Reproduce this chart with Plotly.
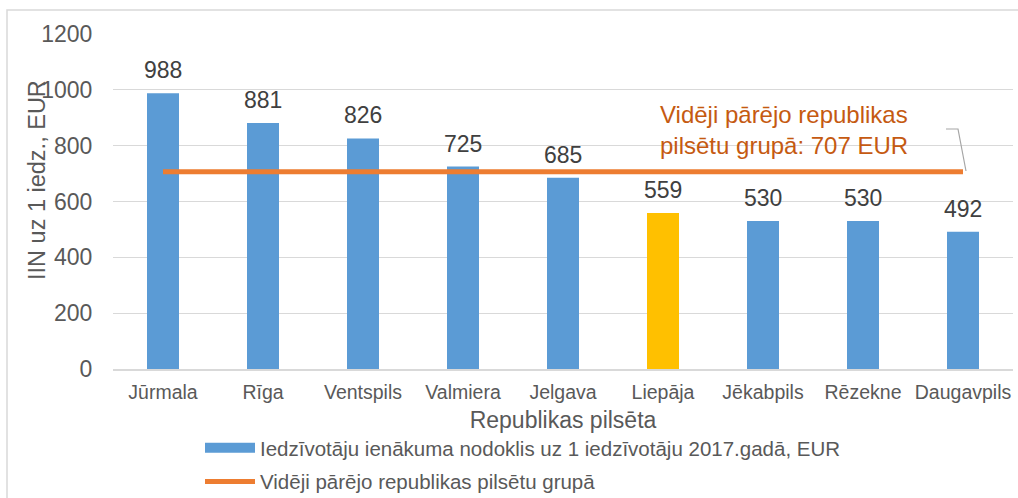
import plotly.graph_objects as go

cities = ["Jūrmala", "Rīga", "Ventspils", "Valmiera", "Jelgava", "Liepāja", "Jēkabpils", "Rēzekne", "Daugavpils"]
iin_values = [988, 881, 826, 725, 685, 559, 530, 530, 492]
group_avg = [707, 707, 707, 707, 707, 707, 707, 707, 707]
highlight_city = "Liepāja"

BLUE = "#5B9BD5"
YELLOW = "#FFC000"
ORANGE = "#ED7D31"
FONT = "Liberation Sans, Arial, sans-serif"
TXT = "#595959"
BAR_NAME = "Iedzīvotāju ienākuma nodoklis uz 1 iedzīvotāju 2017.gadā, EUR"
LINE_NAME = "Vidēji pārējo republikas pilsētu grupā"

bar_colors = [YELLOW if c == highlight_city else BLUE for c in cities]

fig = go.Figure()
fig.add_trace(go.Bar(
    x=cities, y=iin_values, width=0.32,
    marker=dict(color=bar_colors, line=dict(width=0)),
    showlegend=False, name=BAR_NAME,
))
# legend entry for bars drawn as a wide swatch (like the original)
fig.add_trace(go.Scatter(
    x=[None], y=[None], mode="lines",
    line=dict(color=BLUE, width=11), legendgroup="a", name=BAR_NAME,
))
fig.add_trace(go.Scatter(
    x=cities, y=group_avg, mode="lines",
    line=dict(color=ORANGE, width=5), legendgroup="b", name=LINE_NAME,
))

L, R, T, B = 113, 5, 34, 129
W, H = 1018, 498
pw = W - L - R
ph = H - T - B
def px(x): return (x - L) / pw
def py(y): return (H - B - y) / ph

value_labels = [
    dict(x=c, y=v, xref="x", yref="y", text=str(v), showarrow=False,
         xanchor="center", yanchor="bottom", yshift=8,
         font=dict(size=23, color="#404040", family=FONT))
    for c, v in zip(cities, iin_values)
]

fig.update_layout(
    width=W, height=H,
    margin=dict(l=L, r=R, t=T, b=B, autoexpand=False),
    paper_bgcolor="white", plot_bgcolor="white",
    font=dict(family=FONT, color=TXT),
    showlegend=True,
    legend=dict(
        x=px(200), y=py(428), xanchor="left", yanchor="top",
        orientation="v", font=dict(size=20.5, color=TXT, family=FONT),
        bgcolor="rgba(0,0,0,0)", tracegroupgap=4, itemwidth=50,
    ),
    xaxis=dict(
        showgrid=False, showline=True, linecolor="#D9D9D9", linewidth=1.5,
        tickfont=dict(size=19.5, color=TXT), ticks="", ticklabelstandoff=5,
        title=dict(text="Republikas pilsēta", font=dict(size=23, color=TXT), standoff=10),
    ),
    yaxis=dict(
        range=[0, 1200], dtick=200, showgrid=True, gridcolor="#D9D9D9", gridwidth=1.2,
        zeroline=False, showline=False,
        tickfont=dict(size=23, color=TXT), ticks="outside", ticklen=15, tickcolor="rgba(0,0,0,0)",
    ),
    annotations=value_labels + [
        dict(text="IIN uz 1 iedz., EUR", textangle=-90, xref="paper", yref="paper",
             x=px(37), y=py(180), xanchor="center", yanchor="middle",
             showarrow=False, font=dict(size=23.5, color=TXT)),
        dict(text="Vidēji pārējo republikas<br>pilsētu grupā: 707 EUR", xref="paper", yref="paper",
             x=px(784), y=py(130), xanchor="center", yanchor="middle",
             showarrow=False, align="left",
             font=dict(size=24, color="#C55A11")),
    ],
    shapes=[
        dict(type="rect", xref="paper", yref="paper", x0=px(7), x1=px(1030), y0=py(510), y1=py(10),
             line=dict(color="#D9D9D9", width=1.5), layer="below"),
        dict(type="path", xref="paper", yref="paper",
             path=f"M {px(946)} {py(129)} L {px(958)} {py(129)} L {px(966)} {py(171)}",
             line=dict(color="#A6A6A6", width=1.2)),
    ],
)

fig.write_html("out.html", config={"displayModeBar": False},
               post_script="document.body.style.margin='0px';")
